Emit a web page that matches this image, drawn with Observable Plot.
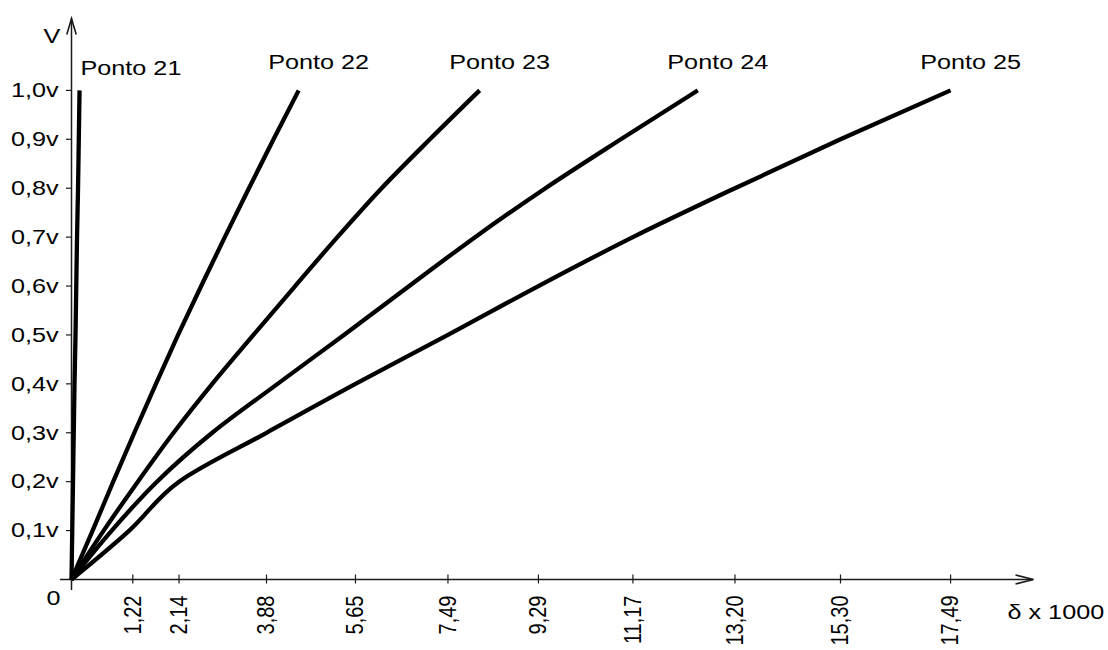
<!DOCTYPE html>
<html><head><meta charset="utf-8">
<script src="https://cdn.jsdelivr.net/npm/d3@7"></script>
<script src="https://cdn.jsdelivr.net/npm/@observablehq/plot@0.6"></script>
<style>body{margin:0;background:#fff}</style>
</head><body><div id="chart"></div>
<script>
const voltageLevels = [0, 0.1, 0.2, 0.3, 0.4, 0.5, 0.6, 0.7, 0.8, 0.9, 1.0];
const seriesNames = ["Ponto 21", "Ponto 22", "Ponto 23", "Ponto 24", "Ponto 25"];
const ponto21 = [0, 0.015, 0.03, 0.045, 0.06, 0.08, 0.095, 0.11, 0.13, 0.145, 0.16];
const ponto22 = [0, 0.42, 0.83, 1.25, 1.68, 2.12, 2.58, 3.05, 3.53, 4.02, 4.52];
const ponto23 = [0, 0.64, 1.32, 2.03, 2.80, 3.62, 4.45, 5.29, 6.17, 7.13, 8.12];
const ponto24 = [0, 0.80, 1.70, 2.80, 4.10, 5.42, 6.72, 8.03, 9.43, 10.93, 12.46];
const ponto25 = [0, 1.15, 2.14, 3.88, 5.65, 7.49, 9.29, 11.17, 13.20, 15.30, 17.49];
const xTickValues = [1.22, 2.14, 3.88, 5.65, 7.49, 9.29, 11.17, 13.20, 15.30, 17.49];
const xTickLabels = ["1,22", "2,14", "3,88", "5,65", "7,49", "9,29", "11,17", "13,20", "15,30", "17,49"];
const yTickValues = [0.1, 0.2, 0.3, 0.4, 0.5, 0.6, 0.7, 0.8, 0.9, 1.0];
const yTickLabels = ["0,1v", "0,2v", "0,3v", "0,4v", "0,5v", "0,6v", "0,7v", "0,8v", "0,9v", "1,0v"];
const yAxisLabel = "V";
const xAxisLabel = "δ x 1000";
const originLabel = "0";

const seriesValues = [ponto21, ponto22, ponto23, ponto24, ponto25];
const rows = [];
seriesNames.forEach((name, s) => {
  voltageLevels.forEach((v, i) => rows.push({serie: name, x: seriesValues[s][i], v}));
});
const last = voltageLevels.length - 1;
const endRows = seriesNames.map((name, s) => ({serie: name, x: seriesValues[s][last], v: voltageLevels[last]}));

const upChevron = {draw(ctx) { ctx.moveTo(-4.7, 16); ctx.lineTo(0, 0); ctx.lineTo(4.7, 16); }};
const rightChevron = {draw(ctx) { ctx.moveTo(-18, -4.5); ctx.lineTo(0, 0); ctx.lineTo(-18, 4.5); }};
const axisColor = "#1a1a1a";

const chart = Plot.plot({
  width: 1108,
  height: 650,
  marginLeft: 71,
  marginRight: 75,
  marginTop: 18,
  marginBottom: 71,
  x: {domain: [0, 19.14], axis: null},
  y: {domain: [0, 1.147], axis: null},
  style: {fontFamily: "'Liberation Sans', Arial, sans-serif", fontSize: "21px", color: "#000", background: "#fff"},
  marks: [
    Plot.ruleY([0], {insetLeft: -11, stroke: axisColor, strokeWidth: 1.5}),
    Plot.ruleX([0], {insetBottom: -11, stroke: axisColor, strokeWidth: 1.5}),
    Plot.ruleX(xTickValues, {y1: 0, y2: 0, insetTop: -4.5, insetBottom: -4.5, stroke: axisColor, strokeWidth: 1.2}),
    Plot.ruleY(yTickValues, {x1: 0, x2: 0, insetLeft: -5, stroke: axisColor, strokeWidth: 1.2}),
    Plot.dot([0], {x: d => d, frameAnchor: "top", symbol: upChevron, fill: "none", stroke: axisColor, strokeWidth: 1.6}),
    Plot.dot([0], {y: d => d, frameAnchor: "right", symbol: rightChevron, fill: "none", stroke: axisColor, strokeWidth: 1.6}),
    Plot.text(yTickValues, {x: 0, y: d => d, text: (d, i) => yTickLabels[i], textAnchor: "end", dx: -13, fontSize: 21}),
    Plot.text(xTickValues, {x: d => d, frameAnchor: "bottom", text: (d, i) => xTickLabels[i], rotate: -90, textAnchor: "end", lineAnchor: "middle", dy: 16, fontSize: 20}),
    Plot.text([0], {x: d => d, frameAnchor: "top", text: () => yAxisLabel, dx: -19.5, dy: 10, fontSize: 21}),
    Plot.text([0], {x: d => d, y: d => d, text: () => originLabel, dx: -18, dy: 19, fontSize: 21}),
    Plot.text([0], {y: d => d, frameAnchor: "right", text: () => xAxisLabel, textAnchor: "start", dx: -26, dy: 33, fontSize: 21}),
    Plot.line(rows, {x: "x", y: "v", z: "serie", stroke: "#000", strokeWidth: 4.3, curve: "monotone-y", strokeLinecap: "butt"}),
    Plot.text(endRows.slice(0, 1), {x: "x", y: "v", text: "serie", textAnchor: "start", dx: 1, dy: -22, fontSize: 21}),
    Plot.text(endRows.slice(1), {x: "x", y: "v", text: "serie", textAnchor: "middle", dx: 20, dy: -28, fontSize: 21})
  ]
});
document.getElementById("chart").appendChild(chart);

// Mimic the horizontally stretched lettering of the original drawing
chart.querySelectorAll("text").forEach(t => {
  const tr = t.getAttribute("transform") || "";
  if (tr.includes("rotate")) t.setAttribute("transform", tr + " scale(1,1.22)");
  else if (tr) t.setAttribute("transform", tr + " scale(1.2,1)");
});
</script>
</body></html>
